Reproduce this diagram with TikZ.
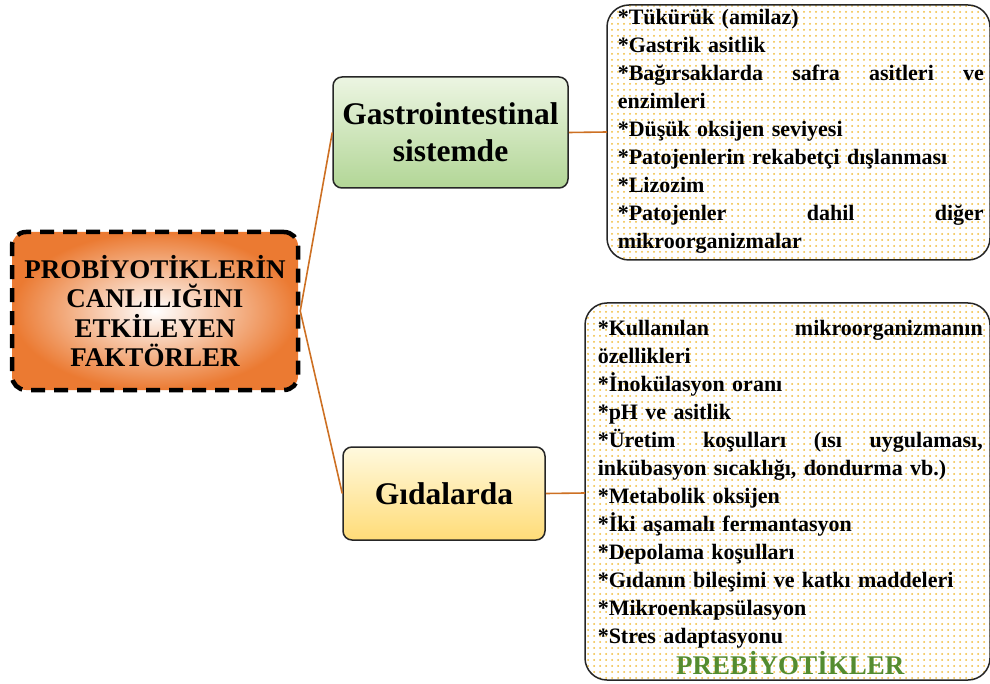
\documentclass[tikz,border=0pt]{standalone}
\usepackage{fontspec}
\setmainfont{Liberation Serif}
\usetikzlibrary{patterns.meta}
\definecolor{linkorange}{RGB}{205,112,35}
\definecolor{mainorange}{RGB}{235,122,50}
\definecolor{greenlight}{RGB}{236,245,226}
\definecolor{greendark}{RGB}{178,214,150}
\definecolor{yellowlight}{RGB}{255,249,222}
\definecolor{yellowdark}{RGB}{255,220,120}
\definecolor{dotyellow}{RGB}{240,188,55}
\definecolor{prebgreen}{RGB}{84,140,48}
\newcommand\spreadline[2]{\leavevmode\hbox to #1{#2}}
\tikzset{
  mainbox/.style={draw=black, line width=4.5pt, dash pattern=on 14pt off 9pt,
    rounded corners=14pt, inner color=white, outer color=mainorange,
    align=center, font=\fontsize{27}{29.5}\selectfont\bfseries},
  catbox/.style={draw=black!85, line width=1.5pt, rounded corners=9pt,
    align=center, font=\fontsize{31.5}{37}\selectfont\bfseries},
  listbox/.style={draw=black!85, line width=1.5pt, rounded corners=22pt,
    pattern={Dots[distance=6pt, radius=1pt]}, pattern color=dotyellow,
    align=left, anchor=north west, inner sep=0pt,
    font=\fontsize{22}{28}\selectfont\bfseries},
  link/.style={draw=linkorange, line width=1.6pt}
}
\begin{document}
\begin{tikzpicture}[x=1pt,y=-1pt]
        \useasboundingbox (0,0) rectangle (990,684);
        \node[mainbox, minimum width=286pt, minimum height=158pt] (factors) at (155,311)
          {PROBİYOTİKLERİN\\CANLILIĞINI\\ETKİLEYEN\\FAKTÖRLER};
        \node[catbox, top color=greenlight, bottom color=greendark,
          minimum width=235pt, minimum height=111pt] (gastro) at (450.5,132.5)
          {Gastrointestinal\\sistemde};
        \node[catbox, top color=yellowlight, bottom color=yellowdark,
          minimum width=202pt, minimum height=93pt] (food) at (444,493.5)
          {Gıdalarda};
        \fill[white, rounded corners=22pt] (607,5) rectangle (990,260);
        \fill[white, rounded corners=22pt] (585,303) rectangle (990,680);
        \draw[listbox] (607,5) rectangle (990,260);
        \draw[listbox] (585,303) rectangle (990,680);
        \node[listbox, draw=none, pattern=none, text width=366pt] (gastrolist) at (617,8)
          {{}*Tükürük (amilaz)\\
           {}*Gastrik asitlik\\
           \spreadline{366pt}{*Bağırsaklarda\hfill safra\hfill asitleri\hfill ve}\\
           enzimleri\\
           {}*Düşük oksijen seviyesi\\
           {}*Patojenlerin rekabetçi dışlanması\\
           {}*Lizozim\\
           \spreadline{366pt}{*Patojenler\hfill dahil\hfill diğer}\\
           mikroorganizmalar};
        \node[listbox, draw=none, pattern=none, text width=385pt] (foodlist) at (597,319)
          {\spreadline{385pt}{*Kullanılan\hfill mikroorganizmanın}\\
           özellikleri\\
           {}*İnokülasyon oranı\\
           {}*pH ve asitlik\\
           \spreadline{385pt}{*Üretim\hfill koşulları\hfill (ısı\hfill uygulaması,}\\
           inkübasyon sıcaklığı, dondurma vb.)\\
           {}*Metabolik oksijen\\
           {}*İki aşamalı fermantasyon\\
           {}*Depolama koşulları\\
           {}*Gıdanın bileşimi ve katkı maddeleri\\
           {}*Mikroenkapsülasyon\\
           {}*Stres adaptasyonu\\[3pt]
           \spreadline{385pt}{\hfill\color{prebgreen}\fontsize{27}{30}\selectfont PREBİYOTİKLER\hfill}};
        \coordinate (gastrolistin) at (607,132);
        \coordinate (foodlistin) at (585,493);
        \draw[link] (factors.east) -- (gastro.west);
        \draw[link] (factors.east) -- (food.west);
        \draw[link] (gastro.east) -- (gastrolistin);
        \draw[link] (food.east) -- (foodlistin);
\end{tikzpicture}
\end{document}
